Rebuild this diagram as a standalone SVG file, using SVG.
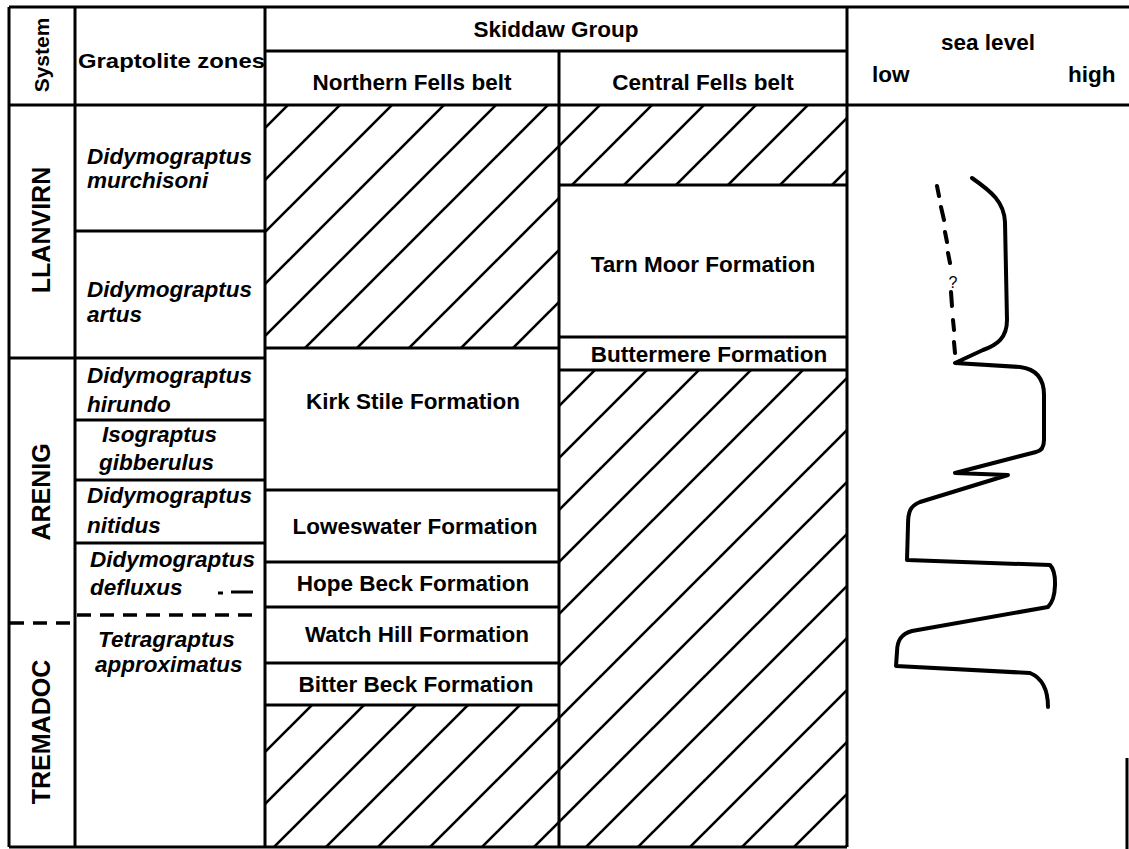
<svg xmlns="http://www.w3.org/2000/svg" width="1129" height="849" viewBox="0 0 1129 849">
<defs>
<pattern id="hatch" patternUnits="userSpaceOnUse" x="29" y="0" width="52" height="52">
<line x1="-2" y1="54" x2="54" y2="-2" stroke="#000" stroke-width="2.6"/>
<line x1="-28" y1="28" x2="28" y2="-28" stroke="#000" stroke-width="2.6"/>
<line x1="24" y1="80" x2="80" y2="24" stroke="#000" stroke-width="2.6"/>
</pattern>
<style>
.ln{stroke:#000;stroke-width:3;fill:none}
.dash{stroke:#000;stroke-width:3.5;fill:none;stroke-dasharray:14 9}
.t{font-family:"Liberation Sans",Arial,sans-serif;font-weight:bold;font-size:22.5px;fill:#000}
.i{font-style:italic}
.sys{font-size:25px}
.curve{stroke:#000;stroke-width:4;fill:none;stroke-linecap:round;stroke-linejoin:round}
.hf{fill:url(#hatch)}
</style>
</defs>
<rect width="1129" height="849" fill="#fff"/>

<g id="hatched-areas">
<rect class="hf" x="265" y="105" width="294" height="243"/>
<rect class="hf" x="265" y="705" width="294" height="142"/>
<rect class="hf" x="559" y="105" width="288" height="80"/>
<rect class="hf" x="559" y="370" width="288" height="477"/>
</g>

<g id="frame">
<path class="ln" d="M9 7 H1129 M9 105 H1129 M265 51 H847 M9 7 V847 M75 7 V847 M265 7 V847 M559 51 V847 M847 7 V847 M9 847 H847 M1127 758 V849"/>
</g>

<g id="header">
<text class="t" font-size="21" transform="translate(49,55) rotate(-90)" text-anchor="middle" style="font-size:21px">System</text>
<text class="t" x="78" y="68" style="font-size:21px" textLength="187" lengthAdjust="spacingAndGlyphs">Graptolite zones</text>
<text class="t" x="556" y="37" text-anchor="middle">Skiddaw Group</text>
<text class="t" x="412" y="90" text-anchor="middle">Northern Fells belt</text>
<text class="t" x="703" y="90" text-anchor="middle">Central Fells belt</text>
<text class="t" x="988" y="50" text-anchor="middle">sea level</text>
<text class="t" x="872" y="82">low</text>
<text class="t" x="1068" y="82">high</text>
</g>

<g id="systems">
<g id="llanvirn"><text class="t sys" transform="translate(50,230) rotate(-90)" text-anchor="middle">LLANVIRN</text></g>
<g id="arenig"><path class="ln" d="M9 358 H265"/><text class="t sys" transform="translate(50,492) rotate(-90)" text-anchor="middle">ARENIG</text></g>
<g id="tremadoc"><path class="dash" d="M10 623 H70"/><text class="t sys" transform="translate(50,732) rotate(-90)" text-anchor="middle">TREMADOC</text></g>
</g>

<g id="zones">
<g id="murchisoni"><text class="t i" x="87" y="164">Didymograptus</text><text class="t i" x="87" y="188">murchisoni</text></g>
<g id="artus"><path class="ln" d="M75 231 H265"/><text class="t i" x="87" y="297">Didymograptus</text><text class="t i" x="87" y="322">artus</text></g>
<g id="hirundo"><text class="t i" x="87" y="383">Didymograptus</text><text class="t i" x="87" y="412">hirundo</text></g>
<g id="gibberulus"><path class="ln" d="M75 420 H265"/><text class="t i" x="102" y="442">Isograptus</text><text class="t i" x="99" y="470">gibberulus</text></g>
<g id="nitidus"><path class="ln" d="M75 480 H265"/><text class="t i" x="87" y="503">Didymograptus</text><text class="t i" x="87" y="533">nitidus</text></g>
<g id="defluxus"><path class="ln" d="M75 543 H265"/><text class="t i" x="90" y="567">Didymograptus</text><text class="t i" x="90" y="595">defluxus</text>
<path class="ln" stroke-width="3.5" d="M218 593 H223 M231 592 H253"/>
<path class="dash" d="M77 615 H253"/></g>
<g id="approximatus"><text class="t i" x="98" y="647">Tetragraptus</text><text class="t i" x="95" y="672">approximatus</text></g>
</g>

<g id="northern-fells">
<g id="kirk-stile"><path class="ln" d="M265 348 H559"/><text class="t" x="413" y="409" text-anchor="middle">Kirk Stile Formation</text></g>
<g id="loweswater"><path class="ln" d="M265 490 H559"/><text class="t" x="415" y="534" text-anchor="middle">Loweswater Formation</text></g>
<g id="hope-beck"><path class="ln" d="M265 562 H559"/><text class="t" x="413" y="591" text-anchor="middle">Hope Beck Formation</text></g>
<g id="watch-hill"><path class="ln" d="M265 607 H559"/><text class="t" x="417" y="642" text-anchor="middle">Watch Hill Formation</text></g>
<g id="bitter-beck"><path class="ln" d="M265 663 H559 M265 705 H559"/><text class="t" x="416" y="692" text-anchor="middle">Bitter Beck Formation</text></g>
</g>

<g id="central-fells">
<g id="tarn-moor"><path class="ln" d="M559 185 H847"/><text class="t" x="703" y="272" text-anchor="middle">Tarn Moor Formation</text></g>
<g id="buttermere"><path class="ln" d="M559 337 H847 M559 370 H847"/><text class="t" x="709" y="362" text-anchor="middle">Buttermere Formation</text></g>
</g>

<g id="connectors">
<path id="sea-level-curve" class="curve" d="M972 178 C992 192 1004 202 1005 222 L1007 320 C1007 338 997 345 983 350 L955 363 L1020 367 C1036 369 1044 378 1044 395 L1044 440 C1044 448 1041 451 1036 452 L955 473 L1008 475 L920 502 C910 506 908 512 908 525 L907 560 L1050 565 C1057 572 1057 598 1048 607 L912 631 C900 634 897 642 897 652 L896 666 L1030 673 C1042 678 1048 690 1048 707"/>
<path id="sea-level-uncertain" class="curve" d="M937 186 L939 196 M941 207 L944 220 M945 232 L947 242 M948 253 L950 263 M951 292 L952 306 M953 320 L954 330 M954 342 L955 353"/>
<text class="t" x="953" y="288" text-anchor="middle" style="font-size:16px;font-weight:normal">?</text>
</g>
</svg>
